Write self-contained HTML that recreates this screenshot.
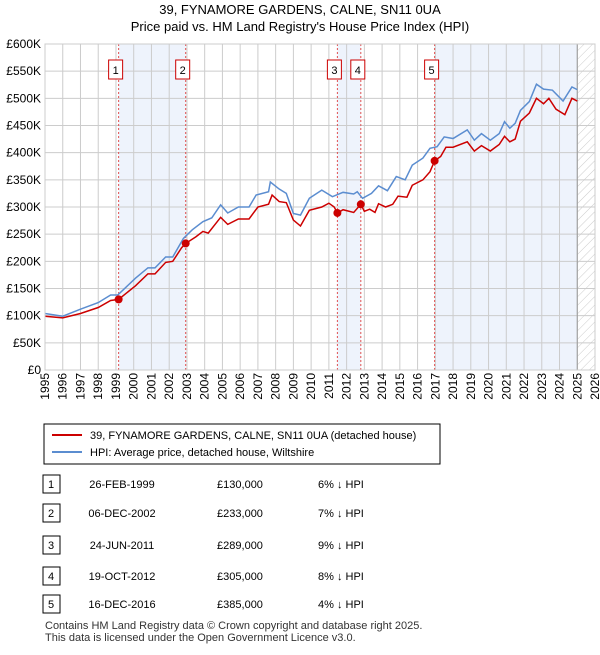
<!DOCTYPE html>
<html><head><meta charset="utf-8"><style>
body{margin:0;background:#fff;font-family:"Liberation Sans",sans-serif;}
svg text{font-family:"Liberation Sans",sans-serif;}
</style></head><body>
<svg width="600" height="650" xmlns="http://www.w3.org/2000/svg">
<defs><pattern id="hatch" width="6" height="6" patternUnits="userSpaceOnUse" patternTransform="rotate(45)"><line x1="0" y1="0" x2="0" y2="6" stroke="#ccc" stroke-width="1"/></pattern></defs>
<text x="300" y="14" text-anchor="middle" font-size="13">39, FYNAMORE GARDENS, CALNE, SN11 0UA</text>
<text x="300" y="31" text-anchor="middle" font-size="13">Price paid vs. HM Land Registry's House Price Index (HPI)</text>
<g id="plot"></g>
<g id="legend">
<rect x="44" y="424" width="396" height="40" fill="#fff" stroke="#000" stroke-width="1"/>
<line x1="52" y1="435" x2="82" y2="435" stroke="#cc0000" stroke-width="2"/>
<text x="90" y="439" font-size="11">39, FYNAMORE GARDENS, CALNE, SN11 0UA (detached house)</text>
<line x1="52" y1="452" x2="82" y2="452" stroke="#5b8dd0" stroke-width="2"/>
<text x="90" y="456" font-size="11">HPI: Average price, detached house, Wiltshire</text>
</g>
<g id="table"></g>
<text x="45" y="629" font-size="11" fill="#333">Contains HM Land Registry data © Crown copyright and database right 2025.</text>
<text x="45" y="641" font-size="11" fill="#333">This data is licensed under the Open Government Licence v3.0.</text>
</svg>
<script>
const hpiYears=[1995,1996,1997,1998,1998.7,1999.1,2000.1,2000.8,2001.2,2001.8,2002.2,2002.8,2003.3,2003.9,2004.4,2004.9,2005.3,2005.9,2006.5,2006.9,2007.6,2007.7,2008.2,2008.6,2009,2009.4,2009.9,2010.6,2011.2,2011.8,2012.4,2012.6,2012.9,2013.4,2013.8,2014.3,2014.8,2015.3,2015.7,2016.3,2016.7,2017.1,2017.5,2018,2018.8,2019.2,2019.6,2020.1,2020.6,2020.9,2021.2,2021.5,2021.8,2022.3,2022.7,2023.1,2023.6,2024.2,2024.7,2025];
const hpiValues=[104,99,112,124,138,138,169,188,188,208,208,242,258,273,280,304,289,300,300,322,328,346,333,325,288,285,316,331,319,327,324,328,316,325,339,330,356,350,377,390,408,411,429,426,442,423,435,423,435,457,445,454,478,494,526,517,515,495,521,516];
const priceYears=[1995,1996,1997,1998,1998.7,1999.15,2000.1,2000.8,2001.2,2001.8,2002.2,2002.7,2002.93,2003.5,2003.9,2004.2,2004.9,2005.3,2005.9,2006.5,2007,2007.6,2007.8,2008.2,2008.6,2009,2009.4,2009.9,2010.6,2011,2011.3,2011.48,2011.8,2012.4,2012.8,2013,2013.3,2013.6,2013.8,2014.2,2014.6,2014.9,2015.4,2015.7,2016.3,2016.7,2016.96,2017.3,2017.6,2018,2018.8,2019.2,2019.6,2020.1,2020.6,2020.9,2021.2,2021.5,2021.8,2022.3,2022.7,2023.1,2023.4,2023.8,2024.3,2024.7,2025];
const priceValues=[99,96,104,115,128,130,155,177,177,198,200,225,233,245,255,252,281,268,278,278,300,305,322,310,308,276,265,294,300,307,300,289,295,290,305,292,296,290,306,300,305,320,318,340,350,365,385,393,410,410,420,403,413,403,415,430,420,425,458,473,500,490,500,480,470,500,495];
const saleLabels=["1","2","3","4","5"];
const saleYears=[1999.15,2002.93,2011.48,2012.8,2016.96];
const saleValues=[130,233,289,305,385];
const saleDates=["26-FEB-1999","06-DEC-2002","24-JUN-2011","19-OCT-2012","16-DEC-2016"];
const salePrices=["£130,000","£233,000","£289,000","£305,000","£385,000"];
const salePcts=["6% ↓ HPI","7% ↓ HPI","9% ↓ HPI","8% ↓ HPI","4% ↓ HPI"];
const yTicks=[0,50,100,150,200,250,300,350,400,450,500,550,600];
const yTickLabels=["£0","£50K","£100K","£150K","£200K","£250K","£300K","£350K","£400K","£450K","£500K","£550K","£600K"];
const xTicks=[1995,1996,1997,1998,1999,2000,2001,2002,2003,2004,2005,2006,2007,2008,2009,2010,2011,2012,2013,2014,2015,2016,2017,2018,2019,2020,2021,2022,2023,2024,2025,2026];

const NS="http://www.w3.org/2000/svg";
const L=45,R=595,T=44,B=370;
const xs=y=>L+(y-1995)/31*(R-L);
const ys=v=>B-v/600*(B-T);
function mk(tag,attrs,parent){const e=document.createElementNS(NS,tag);for(const k in attrs)e.setAttribute(k,attrs[k]);parent.appendChild(e);return e;}
const plot=document.getElementById('plot');
const shades=[[saleYears[0],saleYears[1]],[saleYears[2],saleYears[3]],[saleYears[4],2025]];
shades.forEach(s=>{const r=mk('rect',{x:xs(s[0]),y:T,width:xs(s[1])-xs(s[0]),height:B-T,fill:'#eef3fc'},plot);

});
const h=mk('rect',{x:xs(2025),y:T,width:R-xs(2025),height:B-T,fill:'url(#hatch)'},plot);


yTicks.forEach((v,i)=>{mk('line',{x1:L,x2:R,y1:ys(v),y2:ys(v),stroke:'#ccc','stroke-width':1},plot);
const t=mk('text',{x:L-4,y:ys(v)+4,'text-anchor':'end','font-size':12},plot);t.textContent=yTickLabels[i];

});
xTicks.forEach(y=>{mk('line',{x1:xs(y),x2:xs(y),y1:T,y2:B,stroke:'#ccc','stroke-width':1},plot);
const t=mk('text',{x:0,y:0,'text-anchor':'end','font-size':12,transform:`translate(${xs(y)+4},${B+3}) rotate(-90)`},plot);t.textContent=y;

});
mk('line',{x1:xs(2025),x2:xs(2025),y1:T,y2:B,stroke:'#999','stroke-width':1},plot);
saleYears.forEach(y=>mk('line',{x1:xs(y),x2:xs(y),y1:T,y2:B,stroke:'#e05050','stroke-width':1,'stroke-dasharray':'2,2'},plot));
const hp=mk('polyline',{points:hpiYears.map((y,i)=>xs(y)+','+ys(hpiValues[i])).join(' '),fill:'none',stroke:'#5b8dd0','stroke-width':1.5},plot);


const pp=mk('polyline',{points:priceYears.map((y,i)=>xs(y)+','+ys(priceValues[i])).join(' '),fill:'none',stroke:'#cc0000','stroke-width':1.5},plot);


saleYears.forEach((y,i)=>{const c=mk('circle',{cx:xs(y),cy:ys(saleValues[i]),r:4,fill:'#cc0000'},plot);


const bxX=xs(y)-10;
const bx=mk('rect',{x:bxX,y:60,width:14,height:19,fill:'#fff',stroke:'#cc0000'},plot);


const t=mk('text',{x:bxX+7,y:74,'text-anchor':'middle','font-size':11},plot);t.textContent=saleLabels[i];

});
mk('rect',{x:L,y:T,width:R-L,height:B-T,fill:'none',stroke:'#ccc'},plot);
const tb=document.getElementById('table');
const rowY=[484,513,545,576,604];
saleLabels.forEach((l,i)=>{const y=rowY[i];
const b=mk('rect',{x:43,y:y-9,width:17,height:18,fill:'#fff',stroke:'#000'},tb);


const vals=[[51,l,'middle'],[122,saleDates[i],'middle'],[240,salePrices[i],'middle'],[318,salePcts[i],'start']];
vals.forEach(v=>{const t=mk('text',{x:v[0],y:y+4,'text-anchor':v[2],'font-size':11},tb);t.textContent=v[1];

});});
</script>
</body></html>
